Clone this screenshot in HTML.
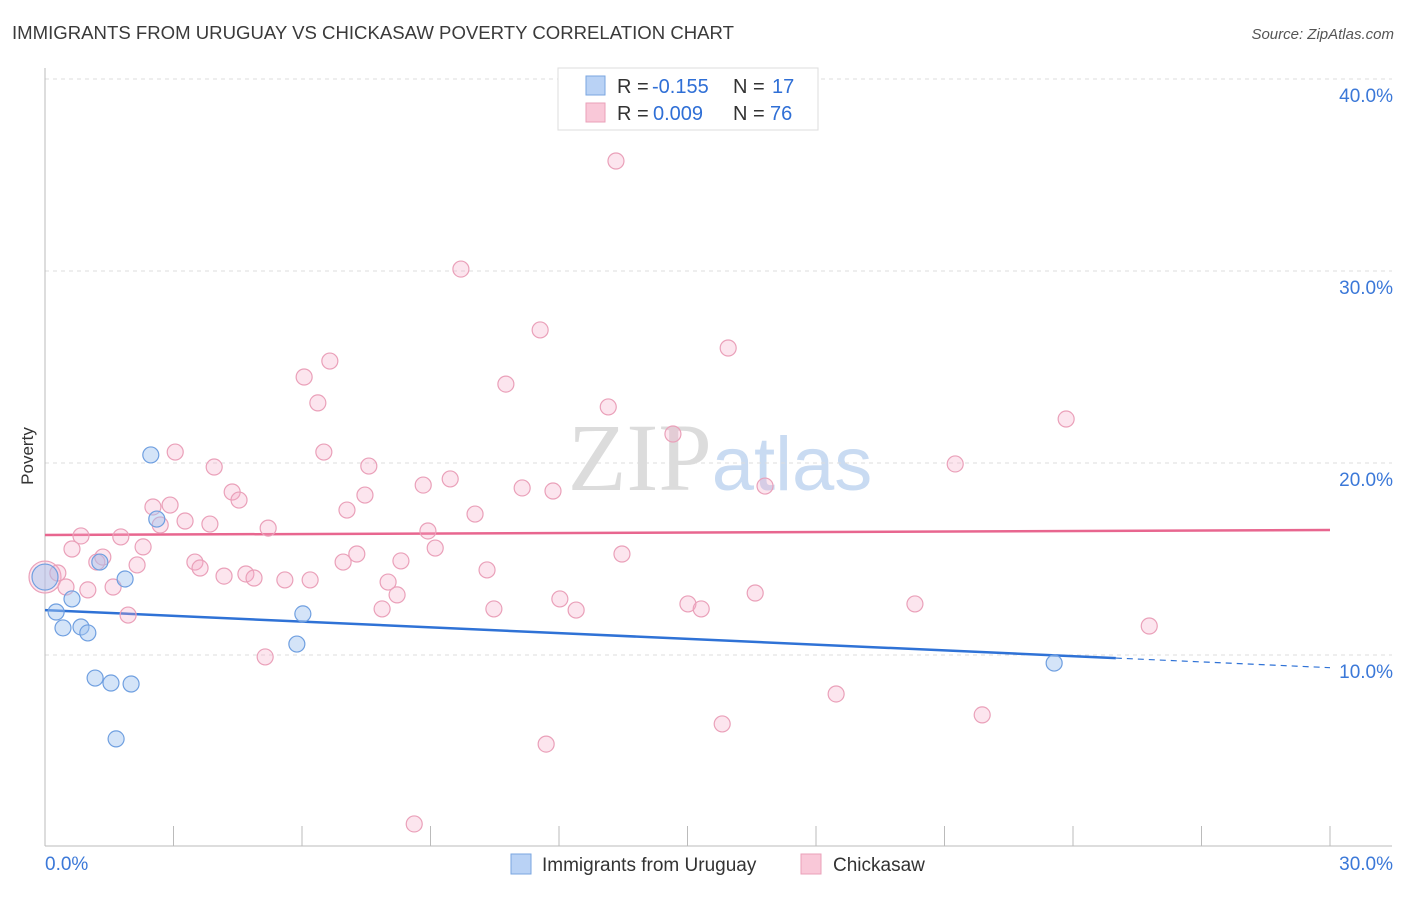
<!DOCTYPE html>
<html><head><meta charset="utf-8"><style>
body{margin:0;background:#fff;font-family:"Liberation Sans",sans-serif;}
svg text{font-family:"Liberation Sans",sans-serif;}
</style></head><body>
<svg id="chart" width="1406" height="892" xmlns="http://www.w3.org/2000/svg">
<text x="12" y="39" font-size="18" fill="#3a3a3a" textLength="722" lengthAdjust="spacingAndGlyphs">IMMIGRANTS FROM URUGUAY VS CHICKASAW POVERTY CORRELATION CHART</text>
<text x="1394" y="39" font-size="15" fill="#555" text-anchor="end" font-style="italic">Source: ZipAtlas.com</text>
<text x="720" y="490" font-size="96" text-anchor="middle" fill="#dcdcdc" font-family="Liberation Serif"><tspan font-family="Liberation Serif">ZIP</tspan><tspan fill="#c9dbf2" font-family="Liberation Sans" font-size="76">atlas</tspan></text>
<text transform="translate(33,456) rotate(-90)" font-size="17" fill="#333" text-anchor="middle">Poverty</text>
<g id="grid"></g><g id="axes"></g><g id="trends"></g><g id="points"></g>
<g>
<rect x="558" y="68" width="260" height="62" fill="#fff" stroke="#ddd"/>
<rect x="586" y="76" width="19" height="19" fill="#b9d2f5" stroke="#7aa6e0"/>
<rect x="586" y="103" width="19" height="19" fill="#f9c8d8" stroke="#eaa0b9"/>
<text x="617" y="93" font-size="20" fill="#333">R =</text>
<text x="652" y="93" font-size="20" fill="#2f6fd6">-0.155</text>
<text x="733" y="93" font-size="20" fill="#333">N =</text>
<text x="772" y="93" font-size="20" fill="#2f6fd6">17</text>
<text x="617" y="120" font-size="20" fill="#333">R =</text>
<text x="653" y="120" font-size="20" fill="#2f6fd6">0.009</text>
<text x="733" y="120" font-size="20" fill="#333">N =</text>
<text x="770" y="120" font-size="20" fill="#2f6fd6">76</text>
</g>
<g>
<rect x="511" y="854" width="20" height="20" fill="#b9d2f5" stroke="#7aa6e0"/>
<text x="542" y="871" font-size="19" fill="#333">Immigrants from Uruguay</text>
<rect x="801" y="854" width="20" height="20" fill="#f9c8d8" stroke="#eaa0b9"/>
<text x="833" y="871" font-size="19" fill="#333">Chickasaw</text>
</g>
</svg>
<script>
const yTicks=[10,20,30,40];
const yTickLabels=["10.0%","20.0%","30.0%","40.0%"];
const xTicks=[0,3,6,9,12,15,18,21,24,27,30];
const xMinLabel="0.0%", xMaxLabel="30.0%";
const blueX=[0,0.26,0.42,0.63,0.84,1.00,1.17,1.28,1.54,1.66,1.87,2.01,2.47,2.61,5.88,6.02,23.56];
const blueY=[14.06,12.24,11.41,12.92,11.46,11.15,8.80,14.84,8.54,5.63,13.96,8.49,20.42,17.08,10.57,12.14,9.58];
const pinkX=[0,.30,.49,.63,.84,1.00,1.21,1.35,1.59,1.77,1.94,2.15,2.29,2.52,2.69,2.92,3.04,3.27,3.50,3.62,3.85,3.95,4.18,4.37,4.53,4.69,4.88,5.14,5.21,5.60,6.05,6.19,6.37,6.51,6.65,6.96,7.05,7.28,7.47,7.56,7.87,8.01,8.22,8.31,8.62,8.83,8.94,9.11,9.46,9.71,10.04,10.32,10.48,10.76,11.14,11.56,11.70,11.86,12.02,12.40,13.15,13.33,13.47,14.66,15.01,15.32,15.81,15.95,16.58,16.81,18.47,20.31,21.25,21.88,23.84,25.78];
const pinkY=[14.06,14.27,13.54,15.52,16.20,13.39,14.84,15.10,13.54,16.15,12.08,14.69,15.63,17.71,16.77,17.81,20.57,16.98,14.84,14.53,16.82,19.79,14.11,18.49,18.07,14.22,14.01,9.90,16.61,13.91,24.48,13.91,23.13,20.57,25.31,14.84,17.55,15.26,18.33,19.84,12.40,13.80,13.13,14.90,1.20,18.85,16.46,15.57,19.17,30.10,17.34,14.43,12.40,24.11,18.70,26.93,5.36,18.54,12.92,12.34,22.92,35.73,15.26,21.51,12.66,12.40,6.41,25.99,13.23,18.80,7.97,12.66,19.95,6.88,22.29,11.51];
const blueTrend=[12.34,9.34]; const blueSolidEnd=25.0;
const pinkTrend=[16.25,16.51];
const NS="http://www.w3.org/2000/svg";
const X=v=>45+v*(1285/30), Y=v=>847-v*19.2;
function mk(p,t,a){const e=document.createElementNS(NS,t);for(const k in a)e.setAttribute(k,a[k]);document.getElementById(p).appendChild(e);return e;}
yTicks.forEach((t,i)=>{
 const g=mk('grid','line',{x1:45,x2:1392,y1:Y(t),y2:Y(t),stroke:'#ddd','stroke-dasharray':'4,4'});
 
 
 const l=mk('grid','text',{x:1393,y:Y(t)+23,'font-size':19,fill:'#3b78d8','text-anchor':'end'});
 l.textContent=yTickLabels[i];
 
 
});
const ax=mk('axes','line',{x1:45,x2:45,y1:68,y2:846,stroke:'#bbb'});


const bx=mk('axes','line',{x1:45,x2:1392,y1:846,y2:846,stroke:'#bbb'});


xTicks.forEach(t=>{const k=mk('axes','line',{x1:X(t),x2:X(t),y1:826,y2:846,stroke:'#bbb'});
 
 });
const a0=mk('axes','text',{x:45,y:870,'font-size':19,fill:'#3b78d8'});a0.textContent=xMinLabel;


const a1=mk('axes','text',{x:1393,y:870,'font-size':19,fill:'#3b78d8','text-anchor':'end'});a1.textContent=xMaxLabel;


function bt(x){return blueTrend[0]+(blueTrend[1]-blueTrend[0])*x/30;}
const t1=mk('trends','line',{x1:X(0),y1:Y(bt(0)),x2:X(blueSolidEnd),y2:Y(bt(blueSolidEnd)),stroke:'#2f72d6','stroke-width':2.5});


const t2=mk('trends','line',{x1:X(blueSolidEnd),y1:Y(bt(blueSolidEnd)),x2:X(30),y2:Y(bt(30)),stroke:'#2f72d6','stroke-width':1.2,'stroke-dasharray':'6,5'});


const t3=mk('trends','line',{x1:X(0),y1:Y(pinkTrend[0]),x2:X(30),y2:Y(pinkTrend[1]),stroke:'#e8668f','stroke-width':2.5});


pinkX.forEach((x,i)=>{const c=mk('points','circle',{cx:X(x),cy:Y(pinkY[i]),r:i==0?16:8,fill:'rgba(246,170,198,0.3)',stroke:'#eaa0b9','stroke-width':1.2});
 
 });
blueX.forEach((x,i)=>{const c=mk('points','circle',{cx:X(x),cy:Y(blueY[i]),r:i==0?13:8,fill:'rgba(160,195,240,0.45)',stroke:'#6f9fe0','stroke-width':1.2});
 
 });
</script>
</body></html>
